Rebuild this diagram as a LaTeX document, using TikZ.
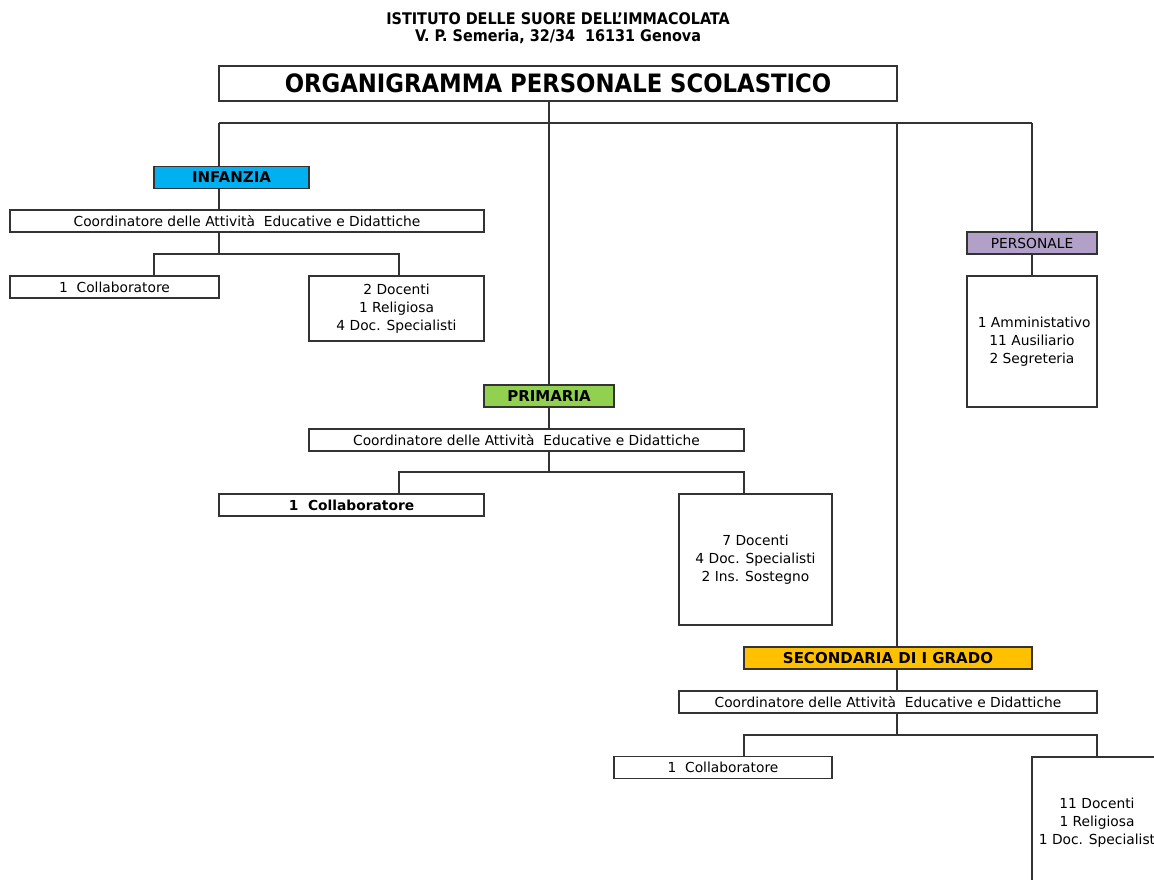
\documentclass[tikz,border=0pt]{standalone}
\usepackage{fontspec}
\setmainfont{DejaVu Sans}
\newfontfamily\condfont{DejaVu Sans Condensed}
\usetikzlibrary{backgrounds}
\definecolor{cinf}{HTML}{00B0F0}
\definecolor{cprim}{HTML}{92D050}
\definecolor{csec}{HTML}{FFC000}
\definecolor{cpers}{HTML}{B1A0C7}
\definecolor{lin}{HTML}{333333}
\tikzset{
  box/.style={draw=lin, line width=1.2pt, fill=white, rectangle, inner sep=0pt, outer sep=0pt,
    align=center, font=\fontsize{13.8}{18}\selectfont, text=black},
  head/.style={box, font=\fontsize{15}{18}\selectfont\bfseries},
  conn/.style={draw=lin, line width=1.1pt},
  hdr/.style={inner sep=0pt, align=center, font=\condfont\bfseries\fontsize{16}{18}\selectfont}
}
\begin{document}
\begin{tikzpicture}[x=1pt,y=-1pt]
\clip (0,0) rectangle (1154,880);
% header
\node[hdr] (h1) at (558,19) {ISTITUTO DELLE SUORE DELL’IMMACOLATA};
\node[hdr] (h2) at (558,37) {V. P. Semeria, 32/34\ \ 16131 Genova};
\node[box, line width=2.2pt, minimum width=678pt, minimum height=35pt,
  font=\condfont\bfseries\fontsize{25.3}{28}\selectfont] (title) at (558,83.5) {ORGANIGRAMMA PERSONALE SCOLASTICO};
% infanzia
\node[head, fill=cinf, minimum width=155pt, minimum height=22pt] (inf) at (231.5,177.5) {INFANZIA};
\node[box, minimum width=474pt, minimum height=22pt] (infc) at (247,221) {Coordinatore delle Attività\ \ Educative e Didattiche};
\node[box, minimum width=209pt, minimum height=22pt] (infcol) at (114.5,287) {1\ \ Collaboratore};
\node[box, minimum width=175pt, minimum height=65pt] (infdoc) at (396.5,308.5) {2 Docenti\\1 Religiosa\\4 Doc. Specialisti};
% personale
\node[box, fill=cpers, minimum width=130pt, minimum height=22pt] (pers) at (1032,243) {PERSONALE};
\node[box, minimum width=130pt, minimum height=131pt] (persbox) at (1032,341.5) {\ 1 Amministativo\\11 Ausiliario\\2 Segreteria};
% primaria
\node[head, fill=cprim, minimum width=130pt, minimum height=22pt] (prim) at (549,396) {PRIMARIA};
\node[box, minimum width=435pt, minimum height=22pt] (primc) at (526.5,440) {Coordinatore delle Attività\ \ Educative e Didattiche};
\node[box, minimum width=265pt, minimum height=22pt, font=\fontsize{13.8}{18}\selectfont\bfseries] (primcol) at (351.5,505) {1\ \ Collaboratore};
\node[box, minimum width=153pt, minimum height=131pt] (primdoc) at (755.5,559.5) {7 Docenti\\4 Doc. Specialisti\\2 Ins. Sostegno};
% secondaria
\node[head, fill=csec, minimum width=288pt, minimum height=22pt] (sec) at (888,658) {SECONDARIA DI I GRADO};
\node[box, minimum width=418pt, minimum height=22pt] (secc) at (888,702) {Coordinatore delle Attività\ \ Educative e Didattiche};
\node[box, minimum width=218pt, minimum height=22pt] (seccol) at (723,767.5) {1\ \ Collaboratore};
\node[box, minimum width=130pt, minimum height=131pt] (secdoc) at (1097,822.5) {11 Docenti\\1 Religiosa\\1 Doc. Specialist};
% junctions
\coordinate (b1) at (219,123);
\coordinate (b2) at (549,123);
\coordinate (b3) at (897,123);
\coordinate (b4) at (1032,123);
\coordinate (i1) at (154,254);
\coordinate (i2) at (399,254);
\coordinate (p1) at (399,472);
\coordinate (p2) at (744,472);
\coordinate (s1) at (744,735);
\coordinate (s2) at (1097,735);
\begin{pgfonlayer}{background}
\fill[white] (0,0) rectangle (1154,880);
\draw[conn] (b2 |- title.south) -- (b2);
\draw[conn] (b1) -- (b4);
\draw[conn] (b1) -- (b1 |- infc.north);
\draw[conn] (b1 |- infc.south) -- (b1 |- i1);
\draw[conn] (i1 |- infcol.north) -- (i1) -- (i2) -- (i2 |- infdoc.north);
\draw[conn] (b2) -- (prim.north);
\draw[conn] (prim.south) -- (prim.south |- primc.north);
\draw[conn] (b2 |- primc.south) -- (b2 |- p1);
\draw[conn] (p1 |- primcol.north) -- (p1) -- (p2) -- (p2 |- primdoc.north);
\draw[conn] (b3) -- (b3 |- secc.north);
\draw[conn] (b3 |- secc.south) -- (b3 |- s1);
\draw[conn] (s1 |- seccol.north) -- (s1) -- (s2) -- (s2 |- secdoc.north);
\draw[conn] (b4) -- (pers.north);
\draw[conn] (pers.south) -- (persbox.north);
\end{pgfonlayer}
\end{tikzpicture}
\end{document}
